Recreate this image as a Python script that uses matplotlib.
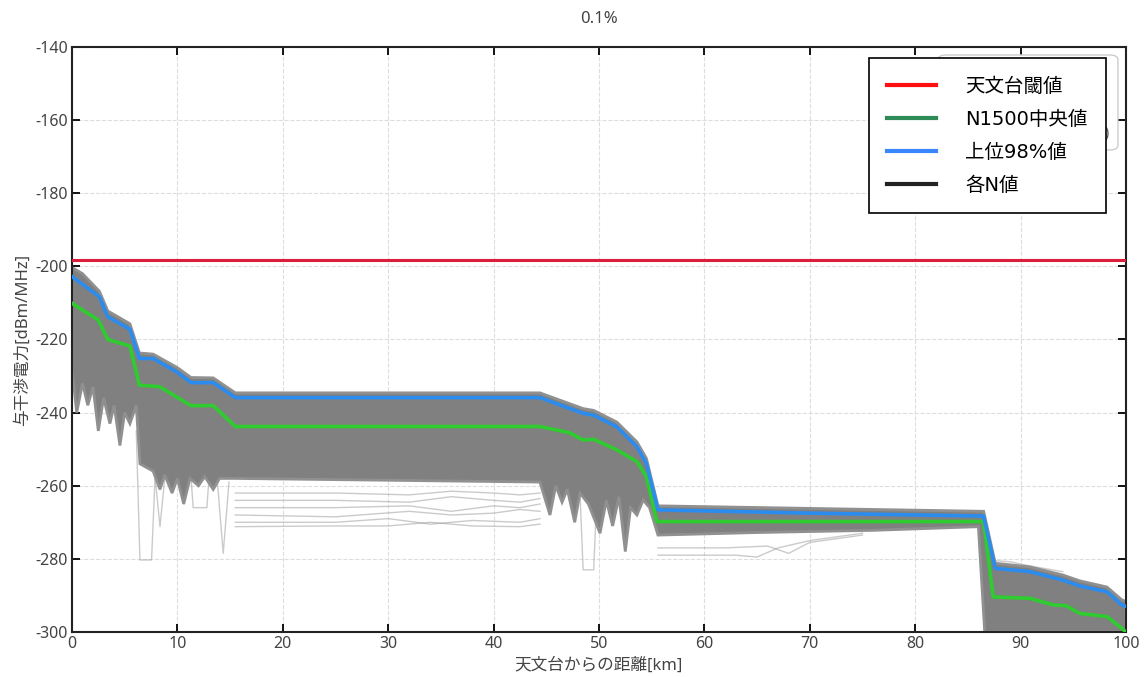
import numpy as np
import matplotlib
matplotlib.use('Agg')
import matplotlib.pyplot as plt
from matplotlib.lines import Line2D
from matplotlib.patches import FancyBboxPatch

plt.rcParams['font.family'] = ['Noto Sans', 'Noto Sans CJK JP', 'DejaVu Sans']
plt.rcParams['axes.unicode_minus'] = False

# 天文台閾値
threshold = -198.3

# 上位98%値
x_p98 = [0, 2.6, 3.4, 5.5, 6.4, 7.7, 10.0, 11.3, 13.4, 15.5, 44.4, 46.3, 48.5, 49.5,
         51.7, 53.6, 54.5, 55.6, 70.0, 86.5, 87.6, 90.9, 94.0, 95.6, 98.2, 99.6, 100]
y_p98 = [-202.8, -208.3, -213.8, -217.2, -225.2, -225.2, -229.0, -231.8, -231.8, -235.9,
         -235.9, -237.9, -240.2, -240.7, -243.9, -249.3, -253.9, -266.6, -267.5, -268.3,
         -282.6, -283.5, -285.8, -287.4, -289.0, -292.6, -293.0]

# N1500中央値
x_med = [0, 2.5, 3.4, 5.5, 6.4, 8.3, 11.3, 13.4, 15.5, 44.4, 47.2, 48.5, 49.5, 51.7,
         53.6, 54.5, 55.5, 86.5, 87.4, 90.9, 93.1, 94.3, 95.6, 98.2, 99.6, 100]
y_med = [-210.1, -214.7, -220.0, -221.8, -232.5, -232.9, -238.1, -238.1, -243.8, -243.8,
         -245.5, -247.5, -247.3, -250.2, -253.4, -257.5, -269.8, -269.8, -290.4, -290.8,
         -292.6, -292.8, -294.9, -295.8, -299.0, -300.0]

# 各N値 (密集帯の上端・下端)
x_top = [0, 1.0, 2.6, 3.4, 5.5, 6.4, 7.7, 10.0, 11.3, 13.4, 15.5, 44.4, 46.3, 48.5, 49.5,
         51.7, 53.6, 54.5, 55.6, 70.0, 86.5, 87.6, 90.9, 94.0, 95.6, 98.2, 99.6, 100]
y_top = [-200.3, -202.0, -206.8, -212.2, -215.7, -223.7, -224.0, -227.7, -230.4, -230.5,
         -234.6, -234.6, -236.6, -238.9, -239.4, -242.6, -248.0, -252.5, -265.5, -266.2,
         -267.0, -281.2, -282.2, -284.4, -286.0, -287.7, -291.2, -291.7]
x_bot = [0, 0.45, 1.0, 1.5, 2.0, 2.5, 3.0, 3.6, 4.0, 4.55, 5.0, 5.5, 6.1, 6.45, 7.7,
         8.35, 8.8, 9.5, 10.0, 10.6, 11.2, 12.0, 12.6, 13.4, 14.0, 15.5, 44.4, 45.35,
         45.9, 46.5, 47.0, 47.7, 48.2, 49.0, 50.1, 50.7, 51.3, 51.9, 52.5, 53.0, 53.6,
         54.2, 54.8, 55.6, 65.0, 76.0, 86.0, 86.6, 100]
y_bot = [-228.0, -240.0, -232.0, -238.0, -233.0, -245.0, -236.0, -243.0, -238.0, -249.0,
         -240.0, -243.0, -238.0, -254.0, -256.0, -261.0, -257.0, -262.0, -258.0, -265.0,
         -258.0, -260.0, -257.5, -261.0, -258.0, -258.0, -259.0, -268.0, -260.0, -264.5,
         -261.0, -270.0, -262.0, -265.0, -273.0, -264.0, -271.0, -263.0, -278.0, -266.0,
         -268.0, -263.9, -266.0, -273.5, -272.8, -272.2, -271.2, -300.0, -300.0]

# 外れた個別のN値
outliers = [
    ([6.1, 6.45, 7.55, 8.0], [-245.0, -280.3, -280.3, -250.0]),
    ([6.3, 6.5, 7.5, 7.8], [-244.0, -250.0, -250.0, -246.0]),
    ([7.9, 8.35, 8.8], [-258.0, -271.2, -258.0]),
    ([13.8, 14.35, 14.9], [-259.0, -278.5, -259.0]),
    ([11.3, 11.5, 12.8, 13.0], [-258.0, -266.0, -266.0, -258.0]),
    ([15.5, 25.0, 32.0, 36.0, 40.0, 42.5, 44.4], [-262.0, -262.0, -262.5, -261.5, -262.0, -262.5, -262.0]),
    ([15.5, 25.0, 32.0, 36.0, 40.0, 42.5, 44.4], [-264.0, -264.0, -264.5, -263.0, -264.0, -264.5, -263.5]),
    ([15.5, 25.0, 32.0, 36.0, 40.0, 42.5, 44.4], [-266.0, -266.0, -265.5, -267.0, -265.5, -266.0, -265.0]),
    ([15.5, 25.0, 32.0, 36.0, 40.0, 42.5, 44.4], [-268.0, -268.5, -267.0, -268.0, -267.5, -266.5, -267.0]),
    ([15.5, 25.0, 30.0, 34.0, 38.0, 42.5, 44.4], [-270.0, -270.0, -269.0, -270.5, -269.5, -270.0, -269.0]),
    ([15.5, 25.0, 30.0, 34.0, 38.0, 42.5, 44.4], [-271.2, -271.0, -271.0, -270.0, -271.0, -271.2, -270.5]),
    ([48.2, 48.5, 49.5, 49.8], [-262.0, -283.0, -283.0, -262.0]),
    ([55.6, 63.0, 65.0, 67.0, 70.0, 75.0], [-279.0, -279.0, -279.5, -277.0, -275.0, -273.0]),
    ([55.6, 62.0, 66.0, 68.0, 70.0, 75.0], [-277.0, -277.0, -276.5, -278.5, -275.5, -273.5]),
    ([87.6, 89.0, 91.0, 94.0], [-280.5, -280.8, -282.0, -283.5]),
]

fig = plt.figure(figsize=(11.46, 6.77), dpi=100)
ax = fig.add_axes([0.0628, 0.0665, 0.9197, 0.8641])

poly_x = np.concatenate([x_top, x_bot[::-1]])
poly_y = np.concatenate([y_top, y_bot[::-1]])
ax.fill(poly_x, poly_y, color='#808080', lw=2.0, ec='#909090', zorder=2)

for ox, oy in outliers:
    ax.plot(ox, oy, color='#a0a0a0', lw=1.0, alpha=0.55, zorder=1.5)

ax.axhline(threshold, color='#dc1e3c', lw=2.2, zorder=4)
ax.plot(x_med, y_med, color='#2ecc2e', lw=2.6, zorder=3)
ax.plot(x_p98, y_p98, color='#2b8cf0', lw=2.6, zorder=3)

ax.set_xlim(0, 100)
ax.set_ylim(-300, -140)
ax.set_xticks(np.arange(0, 101, 10))
ax.set_yticks(np.arange(-300, -139, 20))
ax.grid(True, color='#dddddd', ls='--', lw=0.8, zorder=0)
ax.set_axisbelow(True)
ax.tick_params(direction='in', length=6, width=1.3, top=True, right=True,
               labelsize=11.5, labelcolor='#444444', pad=3)
for sp in ax.spines.values():
    sp.set_linewidth(1.5)
    sp.set_color('#222222')

ax.set_title('0.1%', fontsize=12, color='#444444', pad=17)
ax.set_xlabel('天文台からの距離[km]', fontsize=12, color='#444444', labelpad=4)
ax.set_ylabel('与干渉電力[dBm/MHz]', fontsize=12, color='#444444', labelpad=3)

# 背後に残った凡例枠
ax.add_patch(FancyBboxPatch((0.8216, 0.824), 0.1708, 0.1623, boxstyle='round,pad=0,rounding_size=0.008',
                            transform=ax.transAxes, fc='white', ec='#cccccc', lw=1.0, zorder=4.5))
ax.text(0.980, 0.846, ')', transform=ax.transAxes, fontsize=10, color='#555555', zorder=4.6)

handles = [Line2D([], [], color='#ff1010', lw=3),
           Line2D([], [], color='#2e8b57', lw=3),
           Line2D([], [], color='#3a86ff', lw=3),
           Line2D([], [], color='#222222', lw=3)]
labels = ['天文台閾値', 'N1500中央値', '上位98%値', '各N値']
leg = ax.legend(handles, labels, loc='upper right', bbox_to_anchor=(0.981, 0.981),
                borderaxespad=0, handlelength=2.5, handletextpad=1.5,
                labelspacing=0.72, borderpad=0.95, fancybox=False, framealpha=1,
                edgecolor='black',
                prop={'family': ['DejaVu Sans', 'Noto Sans CJK JP'], 'size': 14})
leg.get_frame().set_linewidth(1.2)
leg.set_zorder(6)

fig.savefig('out.png', dpi=100)
